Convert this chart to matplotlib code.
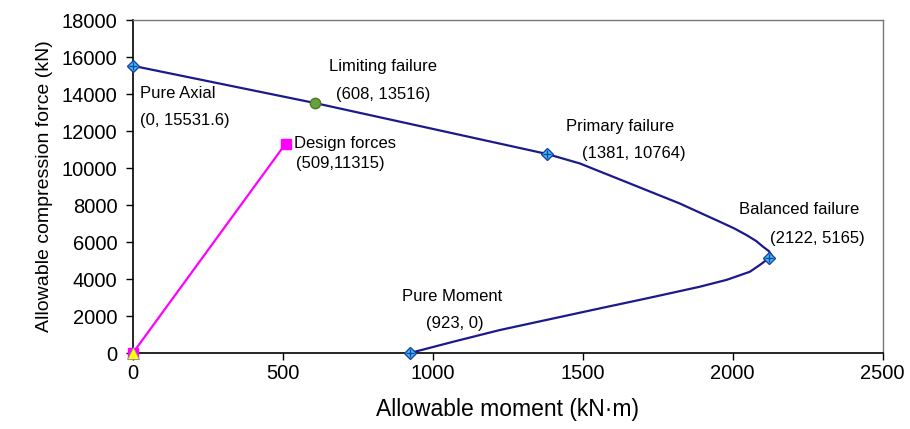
import numpy as np
import matplotlib.pyplot as plt

plt.rcParams['font.family'] = ['Liberation Sans', 'DejaVu Sans']

# interaction curve: allowable moment (kN·m) vs allowable axial force (kN)
curve_m = [0, 608, 1381, 1490, 1657, 1823, 1957, 2005, 2046, 2078, 2101, 2120, 2129, 2122,
           2112, 2090, 2057, 1980, 1890, 1720, 1557, 1390, 1223, 1070, 923]
curve_p = [15531.6, 13516, 10764, 10254, 9170, 8090, 7100, 6740, 6380, 6060, 5750, 5520, 5300, 5165,
           5027, 4760, 4395, 3960, 3586, 2980, 2416, 1830, 1243, 620, 0]

# key points on the curve
key_m = [0, 1381, 2122, 923]
key_p = [15531.6, 10764, 5165, 0]
limit_m, limit_p = 608, 13516
design_m, design_p = 509, 11315

fig = plt.figure(figsize=(9.1, 4.29), dpi=100)
ax = fig.add_axes([0.146, 0.177, 0.824, 0.776])

ax.plot(curve_m, curve_p, color='#1a1a8c', lw=1.6, zorder=2)
ax.plot([0, design_m], [0, design_p], color='#ff00ff', lw=1.6, zorder=2)
ax.plot([design_m], [design_p], 's', color='#ff00ff', ms=7, zorder=3)
ax.plot([0], [0], 's', color='#ff00ff', ms=7, zorder=3, clip_on=False)
ax.plot([0], [0], '^', color='#ffff00', mec='#8888aa', mew=0.6, ms=8, zorder=4, clip_on=False)

ax.plot(key_m, key_p, 'D', ls='none', mfc='#33ccff', mec='#1f3fa0', ms=6, mew=1.0,
        zorder=4, clip_on=False)
ax.plot(key_m, key_p, '+', ls='none', color='#1f3fa0', ms=6, mew=1.0, zorder=5, clip_on=False)
ax.plot([limit_m], [limit_p], 'o', mfc='#6aa03a', mec='#4a7a2a', ms=7.5, zorder=4)

fs = 12
ax.text(23, 14054, 'Pure Axial', fontsize=fs, ha='left', va='center')
ax.text(23, 12600, '(0, 15531.6)', fontsize=fs, ha='left', va='center')
ax.text(833, 15514, 'Limiting failure', fontsize=fs, ha='center', va='center')
ax.text(833, 14000, '(608, 13516)', fontsize=fs, ha='center', va='center')
ax.text(537, 11350, 'Design forces', fontsize=fs, ha='left', va='center')
ax.text(690, 10270, '(509,11315)', fontsize=fs, ha='center', va='center')
ax.text(1623, 12270, 'Primary failure', fontsize=fs, ha='center', va='center')
ax.text(1670, 10810, '(1381, 10764)', fontsize=fs, ha='center', va='center')
ax.text(2223, 7780, 'Balanced failure', fontsize=fs, ha='center', va='center')
ax.text(2283, 6216, '(2122, 5165)', fontsize=fs, ha='center', va='center')
ax.text(1063, 3081, 'Pure Moment', fontsize=fs, ha='center', va='center')
ax.text(1073, 1620, '(923, 0)', fontsize=fs, ha='center', va='center')

ax.set_xlim(0, 2500)
ax.set_ylim(0, 18000)
ax.set_xticks(np.arange(0, 2501, 500))
ax.set_yticks(np.arange(0, 18001, 2000))
ax.tick_params(labelsize=14.5, direction='out', length=5, width=1)
ax.tick_params(axis='x', pad=3)
ax.tick_params(axis='y', pad=6)
for s in ['left', 'bottom']:
    ax.spines[s].set_linewidth(1.2)
for s in ['top', 'right']:
    ax.spines[s].set_color('#777777')
    ax.spines[s].set_linewidth(1.0)

ax.set_xlabel('Allowable moment (kN·m)', fontsize=16.5, labelpad=11)
ax.set_ylabel('Allowable compression force (kN)', fontsize=14, labelpad=6)

fig.savefig('out.png', dpi=100)
